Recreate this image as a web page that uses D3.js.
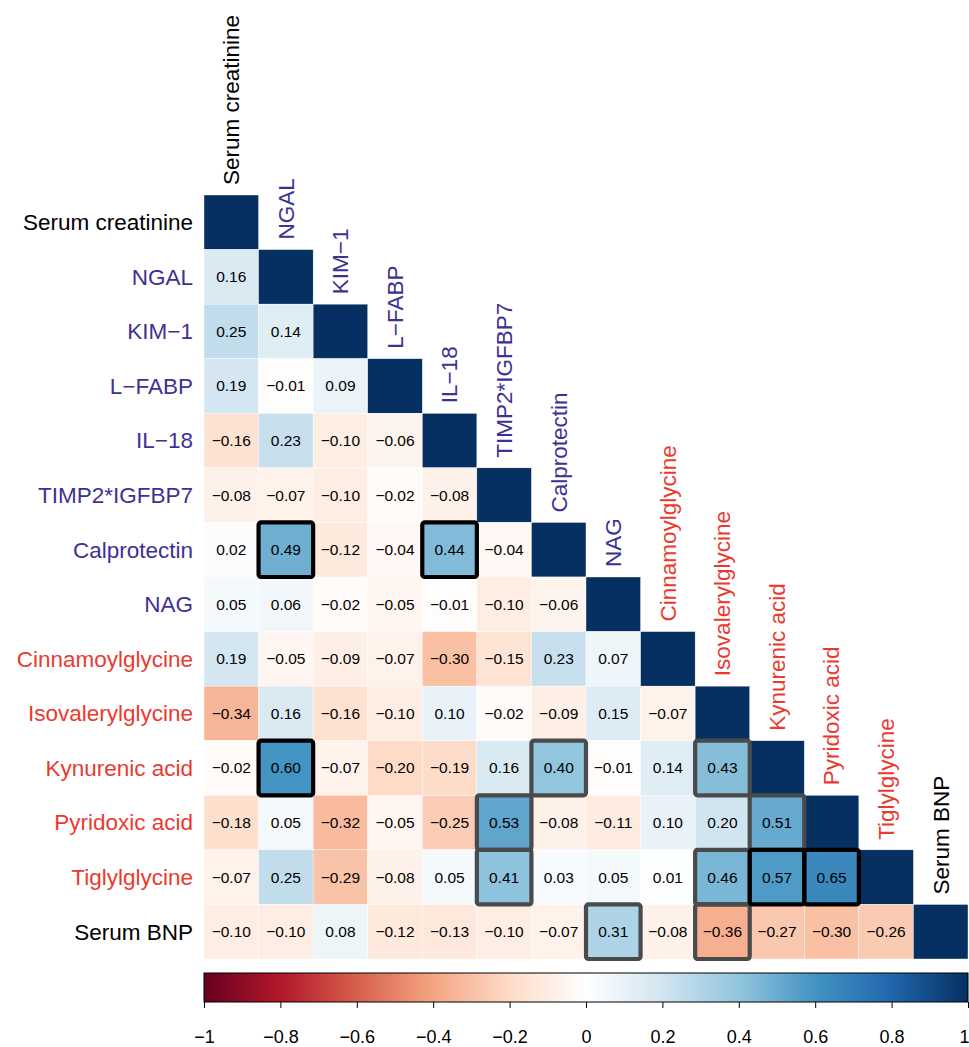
<!DOCTYPE html>
<html>
<head>
<meta charset="utf-8">
<script src="https://cdn.jsdelivr.net/npm/d3@7"></script>
<style>
  html, body { margin: 0; padding: 0; background: #fff; }
  svg { display: block; font-family: "Liberation Sans", Arial, Helvetica, sans-serif; }
</style>
</head>
<body>
<svg id="chart" width="969" height="1047"></svg>
<script>
// Variables in matrix order
const variables = [
  "Serum creatinine", "NGAL", "KIM\u22121", "L\u2212FABP", "IL\u221218", "TIMP2*IGFBP7",
  "Calprotectin", "NAG", "Cinnamoylglycine", "Isovalerylglycine", "Kynurenic acid",
  "Pyridoxic acid", "Tiglylglycine", "Serum BNP"
];
// Label group per variable: clinical, urinary biomarker, metabolite
const groups = [
  "clinical", "biomarker", "biomarker", "biomarker", "biomarker", "biomarker",
  "biomarker", "biomarker", "metabolite", "metabolite", "metabolite",
  "metabolite", "metabolite", "clinical"
];
// Lower-triangle correlations (row i holds columns 0..i-1)
const corrRows = [
  [],
  [0.16],
  [0.25, 0.14],
  [0.19, -0.01, 0.09],
  [-0.16, 0.23, -0.10, -0.06],
  [-0.08, -0.07, -0.10, -0.02, -0.08],
  [0.02, 0.49, -0.12, -0.04, 0.44, -0.04],
  [0.05, 0.06, -0.02, -0.05, -0.01, -0.10, -0.06],
  [0.19, -0.05, -0.09, -0.07, -0.30, -0.15, 0.23, 0.07],
  [-0.34, 0.16, -0.16, -0.10, 0.10, -0.02, -0.09, 0.15, -0.07],
  [-0.02, 0.60, -0.07, -0.20, -0.19, 0.16, 0.40, -0.01, 0.14, 0.43],
  [-0.18, 0.05, -0.32, -0.05, -0.25, 0.53, -0.08, -0.11, 0.10, 0.20, 0.51],
  [-0.07, 0.25, -0.29, -0.08, 0.05, 0.41, 0.03, 0.05, 0.01, 0.46, 0.57, 0.65],
  [-0.10, -0.10, 0.08, -0.12, -0.13, -0.10, -0.07, 0.31, -0.08, -0.36, -0.27, -0.30, -0.26]
];
// Outlined pairs [row, column]
const strongPairs = [
  ["Calprotectin", "NGAL"], ["Calprotectin", "IL\u221218"], ["Kynurenic acid", "NGAL"],
  ["Tiglylglycine", "Kynurenic acid"], ["Tiglylglycine", "Pyridoxic acid"]
];
const notablePairs = [
  ["Kynurenic acid", "Calprotectin"], ["Kynurenic acid", "Isovalerylglycine"],
  ["Pyridoxic acid", "TIMP2*IGFBP7"], ["Pyridoxic acid", "Kynurenic acid"],
  ["Tiglylglycine", "TIMP2*IGFBP7"], ["Tiglylglycine", "Isovalerylglycine"],
  ["Serum BNP", "NAG"], ["Serum BNP", "Isovalerylglycine"]
];
const colorTicks = [-1, -0.8, -0.6, -0.4, -0.2, 0, 0.2, 0.4, 0.6, 0.8, 1];

const groupColor = { clinical: "#000000", biomarker: "#3d3196", metabolite: "#ea3a30" };
const paletteColors = ["#67001F", "#B2182B", "#D6604D", "#F4A582", "#FDDBC7", "#FFFFFF",
                       "#D1E5F0", "#92C5DE", "#4393C3", "#2166AC", "#053061"];

const svg = d3.select("#chart");
const fmt = v => (v < 0 ? "\u2212" : "") + Math.abs(v).toFixed(2);

const x = d3.scaleBand().domain(variables).range([204, 968]).padding(0);
const y = d3.scaleBand().domain(variables).range([195, 959]).padding(0);
const color = d3.scaleLinear()
  .domain(d3.range(11).map(i => -1 + i * 0.2))
  .range(paletteColors)
  .interpolate(d3.interpolateRgb)
  .clamp(true);

// Build cell list, including the diagonal
const cells = [];
variables.forEach((rv, i) => {
  corrRows[i].forEach((v, j) => cells.push({ row: rv, col: variables[j], value: v, diag: false }));
  cells.push({ row: rv, col: rv, value: 1, diag: true });
});

const cellG = svg.append("g");
cellG.selectAll("rect").data(cells).join("rect")
  .attr("x", d => x(d.col))
  .attr("y", d => y(d.row))
  .attr("width", x.bandwidth())
  .attr("height", y.bandwidth())
  .attr("fill", d => color(d.value))
  .attr("stroke", "#ffffff")
  .attr("stroke-width", 0.4);

cellG.selectAll("text").data(cells.filter(d => !d.diag)).join("text")
  .attr("x", d => x(d.col) + x.bandwidth() / 2)
  .attr("y", d => y(d.row) + y.bandwidth() / 2)
  .attr("dy", "0.35em")
  .attr("text-anchor", "middle")
  .attr("font-size", 15.5)
  .attr("fill", "#000")
  .text(d => fmt(d.value));

// Outlines
function outline(pairs, stroke) {
  svg.append("g").selectAll("rect").data(pairs).join("rect")
    .attr("x", d => x(d[1]))
    .attr("y", d => y(d[0]))
    .attr("width", x.bandwidth())
    .attr("height", y.bandwidth())
    .attr("rx", 2.5)
    .attr("fill", "none")
    .attr("stroke", stroke)
    .attr("stroke-width", 4.2);
}
outline(notablePairs, "#484a4c");
outline(strongPairs, "#000000");

// Row labels
svg.append("g").selectAll("text").data(variables).join("text")
  .attr("x", 193)
  .attr("y", d => y(d) + y.bandwidth() / 2)
  .attr("dy", "0.35em")
  .attr("text-anchor", "end")
  .attr("font-size", 22.5)
  .attr("fill", (d, i) => groupColor[groups[i]])
  .text(d => d);

// Column labels, rotated above the diagonal
svg.append("g").selectAll("text").data(variables).join("text")
  .attr("transform", d => `translate(${x(d) + x.bandwidth() / 2},${y(d) - 10}) rotate(-90)`)
  .attr("dy", "0.35em")
  .attr("text-anchor", "start")
  .attr("font-size", 22.5)
  .attr("fill", (d, i) => groupColor[groups[i]])
  .text(d => d);

// Colour bar
const cb = { x0: 204, x1: 968, y0: 973, y1: 1002 };
const cbScale = d3.scaleLinear().domain([-1, 1]).range([cb.x0, cb.x1]);
const defs = svg.append("defs");
const grad = defs.append("linearGradient").attr("id", "corrGrad")
  .attr("x1", "0%").attr("x2", "100%").attr("y1", "0%").attr("y2", "0%");
d3.range(0, 201).forEach(k => {
  const v = -1 + k * 0.01;
  grad.append("stop").attr("offset", (k / 200 * 100) + "%").attr("stop-color", color(v));
});
svg.append("rect")
  .attr("x", cb.x0).attr("y", cb.y0)
  .attr("width", cb.x1 - cb.x0).attr("height", cb.y1 - cb.y0)
  .attr("fill", "url(#corrGrad)")
  .attr("stroke", "#000").attr("stroke-width", 1);

const axis = d3.axisBottom(cbScale)
  .tickValues(colorTicks)
  .tickSize(6)
  .tickPadding(22)
  .tickFormat(v => v === 0 ? "0" : (v < 0 ? "\u2212" : "") + d3.format("")(Math.abs(v)));
const axG = svg.append("g").attr("transform", `translate(0,${cb.y1})`).call(axis);
axG.select(".domain").remove();
axG.selectAll("line").attr("stroke", "#000").attr("stroke-width", 1);
axG.selectAll("text")
  .attr("font-size", 18)
  .attr("font-family", "'Liberation Sans', Arial, sans-serif")
  .attr("fill", "#000");
// keep the last label inside the right edge
axG.selectAll("text").filter(d => d === 1).attr("text-anchor", "end").attr("x", 1);
</script>
</body>
</html>
